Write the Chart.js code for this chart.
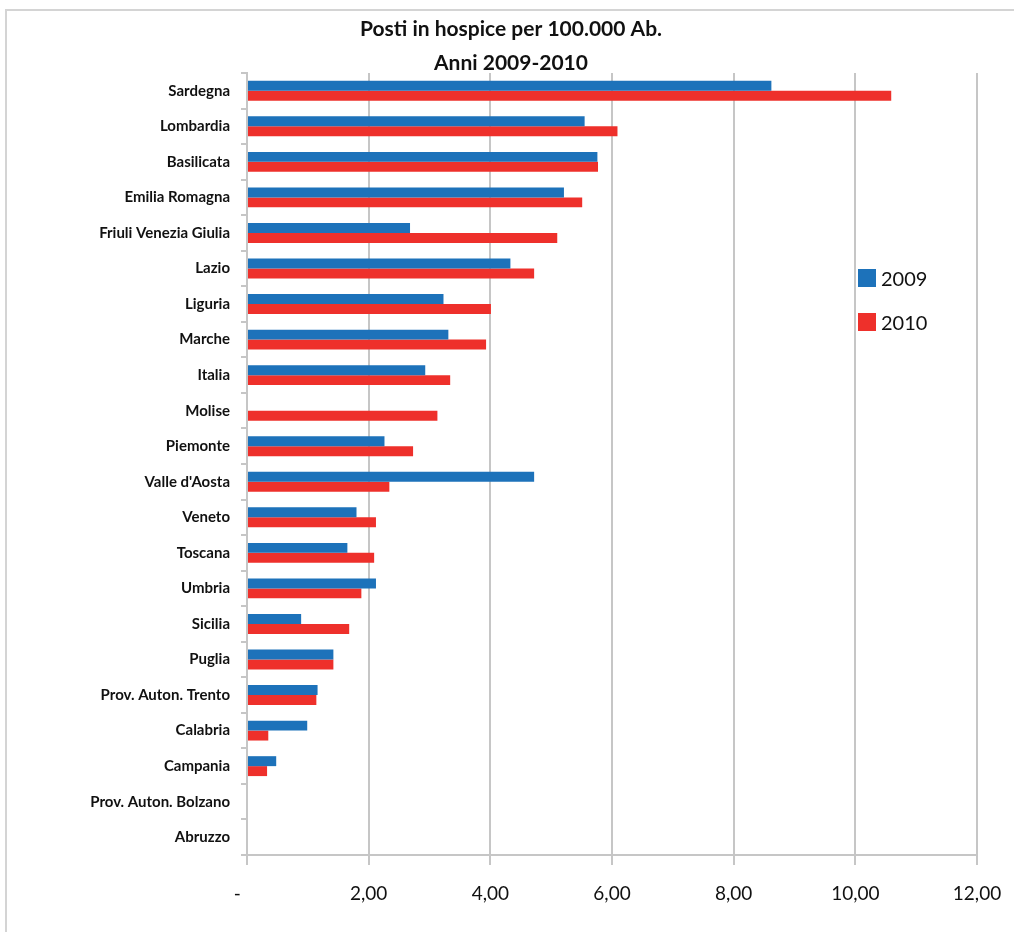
<!DOCTYPE html>
<html>
<head>
<meta charset="utf-8">
<title>Posti in hospice per 100.000 Ab.</title>
<script src="https://cdn.jsdelivr.net/npm/chart.js@4/dist/chart.umd.min.js"></script>
<style>
  body { margin: 0; background: #fff; }
  #wrap { position: relative; width: 1014px; height: 932px; overflow: hidden; }
  #frame {
    position: absolute; left: 5px; top: 9px; width: 1100px; height: 1000px;
    border: 2px solid #d4d4d4; box-sizing: border-box;
  }
  #chart { position: absolute; left: 0; top: 0; }
  #legend { position: absolute; left: 858px; top: 266px; font-family: Lato, sans-serif; font-size: 20px; color: #111; }
  .item { display: flex; align-items: center; height: 24px; margin-bottom: 20px; }
  .box { width: 18px; height: 18px; margin-right: 5px; }
</style>
</head>
<body>
<div id="wrap">
  <div id="frame"></div>
  <canvas id="chart" width="1014" height="932"></canvas>
  <div id="legend"></div>
</div>
<script>
const regions = [
  'Sardegna', 'Lombardia', 'Basilicata', 'Emilia Romagna', 'Friuli Venezia Giulia',
  'Lazio', 'Liguria', 'Marche', 'Italia', 'Molise', 'Piemonte', "Valle d'Aosta",
  'Veneto', 'Toscana', 'Umbria', 'Sicilia', 'Puglia', 'Prov. Auton. Trento',
  'Calabria', 'Campania', 'Prov. Auton. Bolzano', 'Abruzzo'
];
const values2009 = [8.62, 5.55, 5.76, 5.21, 2.68, 4.33, 3.23, 3.31, 2.93, 0, 2.26, 4.72,
                    1.80, 1.65, 2.12, 0.89, 1.42, 1.16, 0.99, 0.48, 0, 0];
const values2010 = [10.59, 6.09, 5.77, 5.51, 5.10, 4.72, 4.01, 3.93, 3.34, 3.13, 2.73, 2.34,
                    2.12, 2.09, 1.88, 1.68, 1.42, 1.14, 0.35, 0.33, 0, 0];
const seriesNames = ['2009', '2010'];
const xTicks = [0, 2, 4, 6, 8, 10, 12];

const BLUE = '#1d72ba';
const RED = '#ee302b';
const GRID = '#c6c6c6';

// excel style: zero shows as a dash
const fmt = v => v === 0 ? '-    ' : v.toFixed(2).replace('.', ',');

const ctx = document.getElementById('chart').getContext('2d');
const chart = new Chart(ctx, {
  type: 'bar',
  data: {
    labels: regions,
    datasets: [
      { label: seriesNames[0], data: values2009, backgroundColor: BLUE },
      { label: seriesNames[1], data: values2010, backgroundColor: RED }
    ]
  },
  options: {
    indexAxis: 'y',
    responsive: false,
    animation: false,
    layout: { padding: { left: 45, right: 37, top: 12, bottom: 0 } },
    datasets: {
      bar: { categoryPercentage: 0.56, barPercentage: 1.0, borderWidth: 0 }
    },
    plugins: {
      legend: { display: false },
      tooltip: { enabled: false },
      title: {
        display: true,
        text: ['Posti in hospice per 100.000 Ab.', 'Anni 2009-2010'],
        color: '#111',
        font: { family: 'Lato', size: 21, weight: 'bold', lineHeight: 34 / 21 },
        padding: { top: 0, bottom: -7 }
      }
    },
    scales: {
      x: {
        min: 0,
        max: 12,
        afterBuildTicks: s => { s.ticks = xTicks.map(v => ({ value: v })); },
        afterFit: s => {
          s.height = 77;
          // let the layout padding decide where the plot ends
          s.paddingLeft = 0;
          s.paddingRight = 0;
        },
        border: { color: GRID, width: 2 },
        grid: { color: GRID, lineWidth: 2, tickLength: 10 },
        ticks: {
          color: '#111',
          padding: 17,
          font: { family: 'Lato', size: 19 },
          callback: v => fmt(v)
        }
      },
      y: {
        afterFit: s => { s.width = 247 - 45; },
        border: { color: GRID, width: 2 },
        grid: { drawOnChartArea: false, offset: true, color: GRID, lineWidth: 2, tickLength: 6 },
        ticks: {
          color: '#111',
          padding: 11,
          font: { family: 'Lato', size: 15, weight: 'bold' }
        }
      }
    }
  }
});

// legend as html, taken from the datasets
const legend = document.getElementById('legend');
chart.data.datasets.forEach(ds => {
  const item = document.createElement('div');
  item.className = 'item';
  item.innerHTML = `<span class="box" style="background:${ds.backgroundColor}"></span><span>${ds.label}</span>`;
  legend.appendChild(item);
});
</script>
</body>
</html>
